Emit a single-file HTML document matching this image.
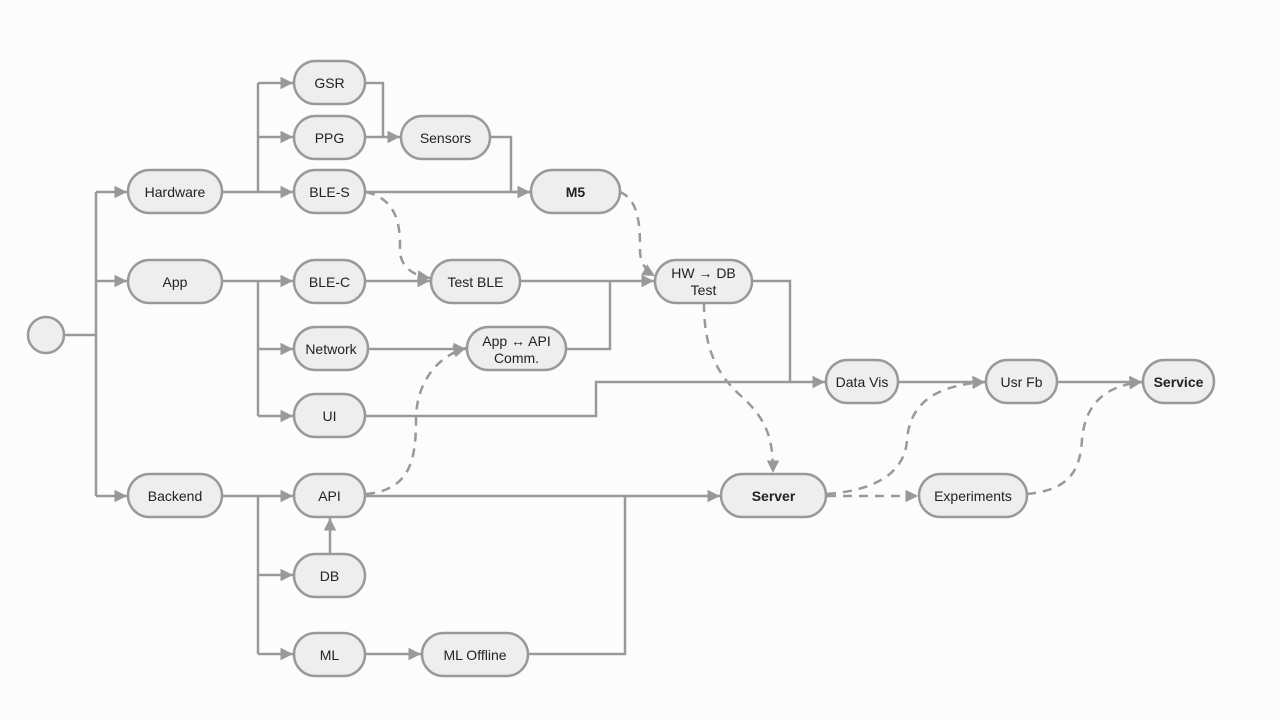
<!DOCTYPE html>
<html><head><meta charset="utf-8"><style>
html,body{margin:0;padding:0;background:#fcfcfc;}
svg{display:block}
text{font-family:"Liberation Sans","DejaVu Sans",sans-serif;font-size:14px;fill:#222;text-anchor:middle;dominant-baseline:central}
.n{fill:#eeeeee;stroke:#999;stroke-width:2.5}
.e{fill:none;stroke:#999;stroke-width:2.5}
.d{fill:none;stroke:#999;stroke-width:2.5;stroke-dasharray:9 7}
</style></head><body>
<svg width="1280" height="720" viewBox="0 0 1280 720" xmlns="http://www.w3.org/2000/svg">
<defs><marker id="a" viewBox="0 0 10 10" refX="10" refY="5" markerWidth="5" markerHeight="5" orient="auto" markerUnits="strokeWidth"><path d="M0,0L10,5L0,10z" fill="#999"/></marker></defs>
<!-- solid edges -->
<path class="e" d="M64,335H96M96,192V496"/>
<path class="e" d="M96,192H127" marker-end="url(#a)"/>
<path class="e" d="M96,281H127" marker-end="url(#a)"/>
<path class="e" d="M96,496H127" marker-end="url(#a)"/>
<path class="e" d="M222,192H258M258,83V192"/>
<path class="e" d="M258,83H293" marker-end="url(#a)"/>
<path class="e" d="M258,137H293" marker-end="url(#a)"/>
<path class="e" d="M258,192H293" marker-end="url(#a)"/>
<path class="e" d="M365,83H383V137M365,137H400" marker-end="url(#a)"/>
<path class="e" d="M490,137H511V192H530" marker-end="url(#a)"/>
<path class="e" d="M365,192H530" marker-end="url(#a)"/>
<path class="e" d="M222,281H258M258,281V416"/>
<path class="e" d="M258,281H293" marker-end="url(#a)"/>
<path class="e" d="M258,349H293" marker-end="url(#a)"/>
<path class="e" d="M258,416H293" marker-end="url(#a)"/>
<path class="e" d="M365,281H430" marker-end="url(#a)"/>
<path class="e" d="M520,281H654" marker-end="url(#a)"/>
<path class="e" d="M566,349H610V281"/>
<path class="e" d="M368,349H466" marker-end="url(#a)"/>
<path class="e" d="M365,416H596V382H825" marker-end="url(#a)"/>
<path class="e" d="M752,281H790V382"/>
<path class="e" d="M898,382H985" marker-end="url(#a)"/>
<path class="e" d="M1057,382H1142" marker-end="url(#a)"/>
<path class="e" d="M222,496H258M258,496V654"/>
<path class="e" d="M258,496H293" marker-end="url(#a)"/>
<path class="e" d="M258,575H293" marker-end="url(#a)"/>
<path class="e" d="M258,654H293" marker-end="url(#a)"/>
<path class="e" d="M330,554V518" marker-end="url(#a)"/>
<path class="e" d="M365,496H720" marker-end="url(#a)"/>
<path class="e" d="M365,654H421" marker-end="url(#a)"/>
<path class="e" d="M528,654H625V496"/>
<!-- dashed -->
<path class="d" d="M366,192C400,200 400,230 400,250C400,268 415,276 430,278" marker-end="url(#a)"/>
<path class="d" d="M620,192C640,200 640,230 640,250C640,265 648,272 655,276" marker-end="url(#a)"/>
<path class="d" d="M704,303C704,340 712,370 740,395C768,420 773,440 773,473" marker-end="url(#a)"/>
<path class="d" d="M366,494C410,490 416,460 416,420C416,380 440,355 466,348" marker-end="url(#a)"/>
<path class="d" d="M827,496H918" marker-end="url(#a)"/>
<path class="d" d="M827,494C880,490 905,470 907,440C910,400 940,385 985,382" marker-end="url(#a)"/>
<path class="d" d="M1027,494C1070,490 1080,470 1082,440C1085,400 1110,385 1142,382" marker-end="url(#a)"/>
<!-- nodes -->
<circle class="n" cx="46" cy="335" r="18"/>
<g>
<rect class="n" x="128" y="170" width="94" height="43" rx="21.5"/><text x="175" y="192">Hardware</text>
<rect class="n" x="128" y="260" width="94" height="43" rx="21.5"/><text x="175" y="282">App</text>
<rect class="n" x="128" y="474" width="94" height="43" rx="21.5"/><text x="175" y="496">Backend</text>
<rect class="n" x="294" y="61" width="71" height="43" rx="21.5"/><text x="329.5" y="83">GSR</text>
<rect class="n" x="294" y="116" width="71" height="43" rx="21.5"/><text x="329.5" y="138">PPG</text>
<rect class="n" x="294" y="170" width="71" height="43" rx="21.5"/><text x="329.5" y="192">BLE-S</text>
<rect class="n" x="401" y="116" width="89" height="43" rx="21.5"/><text x="445.5" y="138">Sensors</text>
<rect class="n" x="531" y="170" width="89" height="43" rx="21.5"/><text x="575.5" y="192" font-weight="bold">M5</text>
<rect class="n" x="294" y="260" width="71" height="43" rx="21.5"/><text x="329.5" y="282">BLE-C</text>
<rect class="n" x="431" y="260" width="89" height="43" rx="21.5"/><text x="475.5" y="282">Test BLE</text>
<rect class="n" x="655" y="260" width="97" height="43" rx="21.5"/><text x="703.5" y="273">HW → DB</text><text x="703.5" y="290">Test</text>
<rect class="n" x="294" y="327" width="74" height="43" rx="21.5"/><text x="331" y="349">Network</text>
<rect class="n" x="467" y="327" width="99" height="43" rx="21.5"/><text x="516.5" y="341">App ↔ API</text><text x="516.5" y="358">Comm.</text>
<rect class="n" x="294" y="394" width="71" height="43" rx="21.5"/><text x="329.5" y="416">UI</text>
<rect class="n" x="826" y="360" width="72" height="43" rx="21.5"/><text x="862" y="382">Data Vis</text>
<rect class="n" x="986" y="360" width="71" height="43" rx="21.5"/><text x="1021.5" y="382">Usr Fb</text>
<rect class="n" x="1143" y="360" width="71" height="43" rx="21.5"/><text x="1178.5" y="382" font-weight="bold">Service</text>
<rect class="n" x="294" y="474" width="71" height="43" rx="21.5"/><text x="329.5" y="496">API</text>
<rect class="n" x="721" y="474" width="105" height="43" rx="21.5"/><text x="773.5" y="496" font-weight="bold">Server</text>
<rect class="n" x="919" y="474" width="108" height="43" rx="21.5"/><text x="973" y="496">Experiments</text>
<rect class="n" x="294" y="554" width="71" height="43" rx="21.5"/><text x="329.5" y="576">DB</text>
<rect class="n" x="294" y="633" width="71" height="43" rx="21.5"/><text x="329.5" y="655">ML</text>
<rect class="n" x="422" y="633" width="106" height="43" rx="21.5"/><text x="475" y="655">ML Offline</text>
</g>
</svg>
</body></html>
